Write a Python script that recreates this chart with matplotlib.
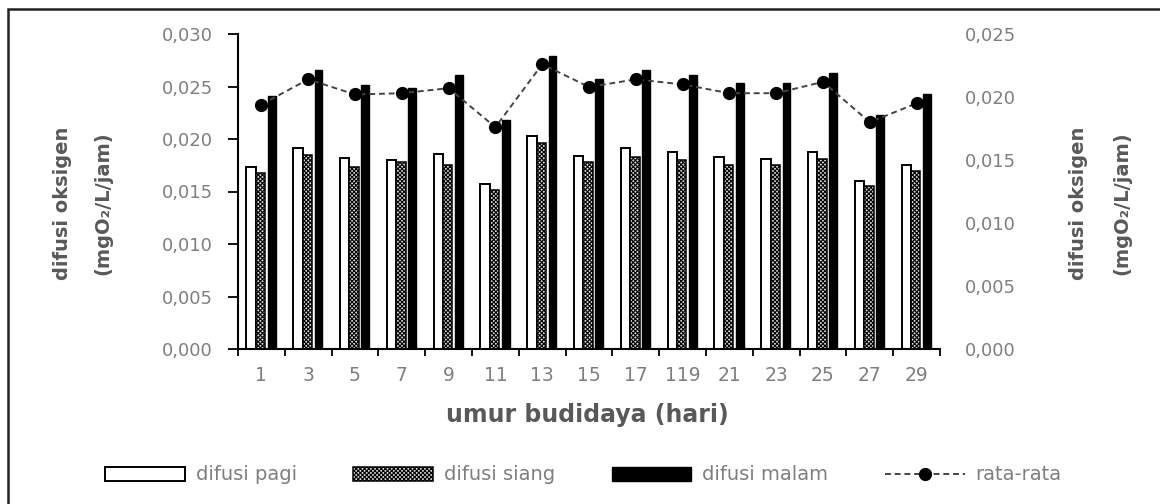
import numpy as np
import matplotlib.pyplot as plt
from matplotlib.patches import Rectangle
from matplotlib.ticker import FuncFormatter

# umur budidaya (hari) dan difusi oksigen (mgO2/L/jam)
hari = ['1', '3', '5', '7', '9', '11', '13', '15', '17', '119', '21', '23', '25', '27', '29']
pagi = [0.0173, 0.0191, 0.0182, 0.0180, 0.0186, 0.0157, 0.0203, 0.0184,
        0.0191, 0.0188, 0.0183, 0.0181, 0.0188, 0.0160, 0.0175]
siang = [0.0168, 0.0185, 0.0173, 0.0178, 0.0175, 0.0151, 0.0196, 0.0178,
         0.0183, 0.0180, 0.0175, 0.0175, 0.0181, 0.0155, 0.0170]
malam = [0.0241, 0.0266, 0.0251, 0.0249, 0.0261, 0.0218, 0.0279, 0.0257,
         0.0266, 0.0261, 0.0253, 0.0253, 0.0263, 0.0223, 0.0243]
rata = [0.0194, 0.0214, 0.0202, 0.0203, 0.0207, 0.0176, 0.0226, 0.0208,
        0.0214, 0.0210, 0.0203, 0.0203, 0.0212, 0.0180, 0.0195]

W, H = 1160, 504
plt.rcParams['hatch.linewidth'] = 0.8

fig = plt.figure(figsize=(W / 100, H / 100), dpi=100)
ax = fig.add_axes([238 / W, 1 - 349 / H, 702 / W, 315 / H])

x = np.arange(len(hari))
b1 = ax.bar(x - 0.22, pagi, 0.2, color='white', edgecolor='black', linewidth=1.4)
b2 = ax.bar(x - 0.02, siang, 0.2, color='#d8d8d8', edgecolor='black', linewidth=1.1, hatch='xxxxxxxx')
b3 = ax.bar(x + 0.22, malam, 0.17, color='black', edgecolor='black', linewidth=1.0)

ax2 = ax.twinx()
ln, = ax2.plot(x, rata, linestyle=(0, (3, 2)), color='#444444', linewidth=1.4,
               marker='o', markersize=8.5, markerfacecolor='black', markeredgecolor='black')

comma = FuncFormatter(lambda v, p: f'{v:.3f}'.replace('.', ','))

ax.set_xlim(-0.5, len(hari) - 0.5)
ax.set_ylim(0, 0.03)
ax.set_yticks(np.arange(0, 0.0301, 0.005))
ax.yaxis.set_major_formatter(comma)
ax.set_xticks(x)
ax.set_xticklabels(hari)
ax.set_xticks(np.arange(-0.5, len(hari), 1), minor=True)
ax.tick_params(axis='x', which='major', length=0, pad=12, labelsize=13.5, labelcolor='#7f7f7f')
ax.tick_params(axis='x', which='minor', length=5, width=1.3, direction='out')
ax.tick_params(axis='y', length=7, width=1.3, pad=11, labelsize=13, labelcolor='#7f7f7f')
for s in ['top', 'right']:
    ax.spines[s].set_visible(False)
for s in ['left', 'bottom']:
    ax.spines[s].set_linewidth(1.5)

ax2.set_ylim(0, 0.025)
ax2.set_yticks(np.arange(0, 0.0251, 0.005))
ax2.yaxis.set_major_formatter(comma)
ax2.tick_params(axis='y', length=0, pad=18, labelsize=13, labelcolor='#7f7f7f')
for s in ax2.spines.values():
    s.set_visible(False)

# judul sumbu
lab = dict(rotation=90, ha='center', va='center', fontsize=14, fontweight='bold', color='#595959')
fig.text(63 / W, 1 - 203 / H, 'difusi oksigen', **lab)
fig.text(103 / W, 1 - 203 / H, '(mgO\u2082/L/jam)', **lab)
fig.text(1078 / W, 1 - 203 / H, 'difusi oksigen', **lab)
fig.text(1122 / W, 1 - 203 / H, '(mgO\u2082/L/jam)', **lab)
fig.text(587 / W, 1 - 415 / H, 'umur budidaya (hari)', ha='center', va='center',
         fontsize=17, fontweight='bold', color='#595959')

fig.legend([b1, b2, b3, ln], ['difusi pagi', 'difusi siang', 'difusi malam', 'rata-rata'],
           ncol=4, loc='center left', bbox_to_anchor=(105 / W, 1 - 475 / H),
           frameon=False, fontsize=14, labelcolor='#7f7f7f', numpoints=1,
           handlelength=4.1, handleheight=0.72, handletextpad=0.57,
           columnspacing=2.9, borderpad=0, borderaxespad=0)

# bingkai luar
fig.patches.append(Rectangle((8 / W, -0.1), 1.2, 1.1 - 9 / H, transform=fig.transFigure,
                             fill=False, edgecolor='#222222', linewidth=1.8))

fig.savefig('out.png', dpi=100)
